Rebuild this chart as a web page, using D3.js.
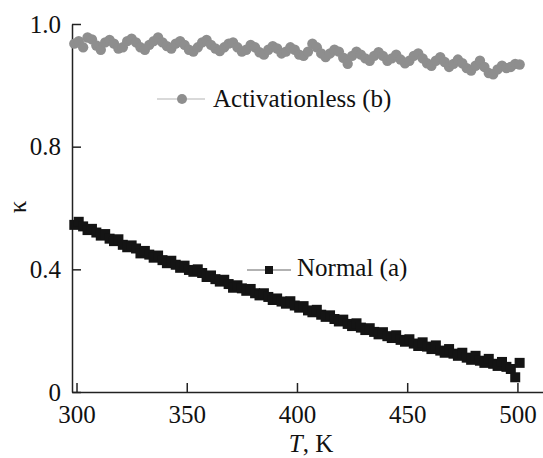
<!DOCTYPE html>
<html>
<head>
<meta charset="utf-8">
<script src="https://cdn.jsdelivr.net/npm/d3@7"></script>
<style>
  body { margin: 0; background: #fff; }
  svg, svg text { font-family: "Liberation Serif", "DejaVu Serif", "Times New Roman", Times, serif; }
  .axis path, .axis line { stroke: #222; stroke-width: 1.5; }
  .axis text { font-size: 25px; fill: #111; }
</style>
</head>
<body>
<div id="graphicContainer"></div>
<script>

const serif = "'Liberation Serif', 'DejaVu Serif', 'Times New Roman', Times, serif"

const temps = [
  299, 301, 303, 305, 307, 309, 311, 313, 315, 317, 319, 321, 323, 325, 327, 329, 331,
  333, 335, 337, 339, 341, 343, 345, 347, 349, 351, 353, 355, 357, 359, 361, 363, 365,
  367, 369, 371, 373, 375, 377, 379, 381, 383, 385, 387, 389, 391, 393, 395, 397, 399,
  401, 403, 405, 407, 409, 411, 413, 415, 417, 419, 421, 423, 425, 427, 429, 431, 433,
  435, 437, 439, 441, 443, 445, 447, 449, 451, 453, 455, 457, 459, 461, 463, 465, 467,
  469, 471, 473, 475, 477, 479, 481, 483, 485, 487, 489, 491, 493, 495, 497, 499, 501
]

const normal = [
  0.545, 0.555, 0.540, 0.528, 0.532, 0.520, 0.510, 0.515, 0.500, 0.492, 0.498, 0.480, 0.472, 0.478, 0.468, 0.452, 0.460,
  0.448, 0.438, 0.445, 0.430, 0.420, 0.428, 0.415, 0.405, 0.412, 0.398, 0.392, 0.400, 0.388, 0.375, 0.380, 0.368, 0.360,
  0.366, 0.352, 0.340, 0.348, 0.338, 0.330, 0.336, 0.322, 0.315, 0.322, 0.310, 0.300, 0.305, 0.295, 0.288, 0.296, 0.282,
  0.275, 0.280, 0.266, 0.260, 0.268, 0.252, 0.245, 0.250, 0.238, 0.230, 0.236, 0.222, 0.215, 0.224, 0.210, 0.202, 0.208,
  0.196, 0.188, 0.195, 0.182, 0.176, 0.185, 0.170, 0.164, 0.172, 0.158, 0.150, 0.162, 0.148, 0.140, 0.152, 0.135, 0.128,
  0.140, 0.125, 0.118, 0.128, 0.112, 0.105, 0.118, 0.102, 0.095, 0.108, 0.092, 0.085, 0.098, 0.082, 0.075, 0.048, 0.095
]

const activationless = [
  0.968, 0.972, 0.962, 0.978, 0.975, 0.965, 0.958, 0.970, 0.974, 0.968, 0.960, 0.962, 0.972, 0.976, 0.970, 0.962, 0.958,
  0.966, 0.972, 0.978, 0.970, 0.964, 0.960, 0.968, 0.972, 0.966, 0.958, 0.955, 0.962, 0.970, 0.974, 0.966, 0.960, 0.956,
  0.962, 0.968, 0.970, 0.962, 0.955, 0.958, 0.966, 0.962, 0.954, 0.950, 0.958, 0.964, 0.960, 0.952, 0.955, 0.962, 0.958,
  0.950, 0.948, 0.955, 0.968, 0.962, 0.952, 0.946, 0.952, 0.958, 0.955, 0.945, 0.935, 0.948, 0.955, 0.950, 0.944, 0.940,
  0.948, 0.954, 0.948, 0.940, 0.944, 0.950, 0.942, 0.936, 0.940, 0.948, 0.952, 0.944, 0.936, 0.932, 0.940, 0.946, 0.938,
  0.930, 0.935, 0.942, 0.936, 0.928, 0.924, 0.932, 0.940, 0.930, 0.920, 0.918, 0.926, 0.932, 0.928, 0.930, 0.935, 0.934
]

const xTicks = [300, 350, 400, 450, 500]
const yTicks = [0, 0.4, 0.8, 1.0]
const yTickLabels = ["0", "0.4", "0.8", "1.0"]

const legendItems = [
  { label: "Activationless (b)", symbol: "circle" },
  { label: "Normal (a)", symbol: "square" }
]

const width = 543
const height = 458
const margin = { top: 24, right: 0, bottom: 66, left: 72 }

const plotW = width - margin.left - margin.right
const plotH = height - margin.top - margin.bottom

const svg = d3.select("#graphicContainer").append("svg")
  .attr("width", width)
  .attr("height", height)

const g = svg.append("g")
  .attr("transform", `translate(${margin.left}, ${margin.top})`)

const x = d3.scaleLinear()
  .domain([297.95, 511.6])
  .range([0, plotW])

// the y axis is not uniform: 0–0.8 in 0.4 steps, then 0.8–1.0 over the same height
const y = d3.scaleLinear()
  .domain(yTicks)
  .range([plotH, plotH * 2 / 3, plotH / 3, 0])

const normalData = temps.map((t, i) => ({ t: t, v: normal[i] }))
const activData = temps.map((t, i) => ({ t: t, v: activationless[i] }))

const xAxis = g.append("g")
  .attr("class", "axis")
  .attr("transform", `translate(0, ${plotH})`)
  .call(d3.axisBottom(x).tickValues(xTicks).tickSizeInner(-9).tickSizeOuter(0).tickPadding(13))

const yAxis = g.append("g")
  .attr("class", "axis")
  .call(d3.axisLeft(y).tickValues(yTicks).tickFormat((d, i) => yTickLabels[i]).tickSizeInner(-9).tickSizeOuter(0).tickPadding(11))

xAxis.attr("font-family", serif).attr("font-size", 25)
yAxis.attr("font-family", serif).attr("font-size", 25)
g.selectAll(".axis text").attr("fill", "#111")

g.append("g")
  .selectAll("circle")
  .data(activData)
  .enter()
  .append("circle")
  .attr("cx", d => x(d.t))
  .attr("cy", d => y(d.v))
  .attr("r", 5.2)
  .attr("fill", "#8e8e8e")

const sq = 10

g.append("g")
  .selectAll("rect")
  .data(normalData)
  .enter()
  .append("rect")
  .attr("x", d => x(d.t) - sq / 2)
  .attr("y", d => y(d.v) - sq / 2)
  .attr("width", sq)
  .attr("height", sq)
  .attr("fill", "#141414")

// legends
const leg1 = svg.append("g").attr("transform", "translate(157, 99)")

leg1.append("line")
  .attr("x1", 0).attr("x2", 48)
  .attr("stroke", "#b4b4b4").attr("stroke-width", 1.2)

leg1.append("circle")
  .attr("cx", 25).attr("r", 5)
  .attr("fill", "#8e8e8e")

leg1.append("text")
  .attr("x", 56).attr("y", 8)
  .attr("font-family", serif)
  .attr("font-size", 25)
  .attr("fill", "#111")
  .text(legendItems[0].label)

const leg2 = svg.append("g").attr("transform", "translate(247, 270)")

leg2.append("line")
  .attr("x1", 0).attr("x2", 44)
  .attr("stroke", "#666").attr("stroke-width", 1.2)

leg2.append("rect")
  .attr("x", 22 - 4).attr("y", -4)
  .attr("width", 8).attr("height", 8)
  .attr("fill", "#141414")

leg2.append("text")
  .attr("x", 50).attr("y", 6)
  .attr("font-family", serif)
  .attr("font-size", 25)
  .attr("fill", "#111")
  .text(legendItems[1].label)

// axis titles
const xTitle = svg.append("text")
  .attr("x", 311)
  .attr("y", 452)
  .attr("text-anchor", "middle")
  .attr("font-family", serif)
  .attr("font-size", 25)
  .attr("fill", "#111")

xTitle.append("tspan").attr("font-style", "italic").text("T")
xTitle.append("tspan").text(", K")

svg.append("text")
  .attr("transform", "translate(26, 207) rotate(-90)")
  .attr("text-anchor", "middle")
  .attr("font-family", serif)
  .attr("font-size", 25)
  .attr("fill", "#111")
  .text("κ")

</script>
</body>
</html>
